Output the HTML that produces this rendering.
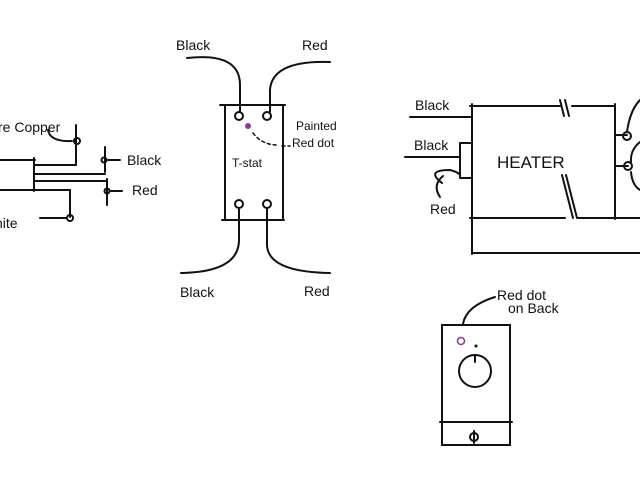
<!DOCTYPE html>
<html><head><style>body{margin:0;background:#fff}svg{display:block}text{font-family:"Liberation Sans",sans-serif;font-size:14px;fill:#111}</style></head>
<body>
<svg width="640" height="480" viewBox="0 0 640 480" xmlns="http://www.w3.org/2000/svg">
<g stroke="#111" stroke-width="2" fill="none" stroke-linecap="round">
<!-- left -->
<path d="M0 160 H35 M34 158 V191 M34 165 H76 M34 174 H105 M34 181 H107 M0 190 H70"/>
<path d="M76 125 V165 M105 147 V172 M107 179 V205 M70 190 V217"/>
<path d="M48 130 Q50 142 72 141"/>
<path d="M108 160 H120 M110 191 H122 M40 218 H66"/>
<circle cx="77" cy="141" r="3"/><circle cx="104" cy="160" r="2.5"/><circle cx="107" cy="191" r="2.5"/><circle cx="70" cy="218" r="3"/>
<!-- tstat -->
<rect x="225" y="105" width="58" height="115"/>
<path d="M220 105 H285 M222 220 H284"/>
<circle cx="239" cy="116" r="4"/><circle cx="267" cy="116" r="4"/><circle cx="239" cy="204" r="4"/><circle cx="267" cy="204" r="4"/>
<path d="M187 58 Q240 52 240 85 V112 M330 62 Q272 60 270 90 V112"/>
<path d="M181 273 Q239 272 239 240 V208 M267 208 V245 Q268 272 330 273"/>
<path d="M253 133 Q262 145 278 145 M282 146 H290" stroke-dasharray="3 3" stroke-width="1.5"/>
<!-- heater -->
<path d="M472 104 V254 M470 106 H560 M572 106 H615 M560 100 L564 116 M565 100 L569 116"/>
<path d="M615 104 V219 M470 218 H565 M578 218 H640 M562 175 L573 218 M566 175 L577 218"/>
<path d="M472 253 H640 M410 117 H472 M405 157 H460 M460 143 V178 M460 143 H472 M460 178 H472"/>
<path d="M442 183 Q425 170 450 170 Q458 172 460 175 M443 176 Q432 185 440 197"/>
<path d="M615 135 H627 M615 166 H628 M627 132 Q630 110 640 100 M631 162 Q630 150 640 142 M631 172 Q632 185 640 190"/>
<circle cx="627" cy="136" r="4"/><circle cx="628" cy="166" r="4"/>
<!-- plate -->
<rect x="442" y="325" width="68" height="120"/>
<path d="M440 422 H512"/>
<circle cx="475" cy="371" r="16"/>
<path d="M475 355 V362"/>
<circle cx="474" cy="437" r="4"/><path d="M474 431 V443"/>
<path d="M463 324 Q466 306 495 297"/>
</g>
<circle cx="248" cy="126" r="3" fill="#8a3d8f"/>
<circle cx="461" cy="341" r="3.5" fill="none" stroke="#8a3d8f" stroke-width="1.5"/>
<circle cx="476" cy="346" r="1.5" fill="#111"/>
<text x="-2" y="132">re Copper</text>
<text x="127" y="165">Black</text>
<text x="132" y="195">Red</text>
<text x="-5" y="228">hite</text>
<text x="176" y="50">Black</text>
<text x="302" y="50">Red</text>
<text x="180" y="297">Black</text>
<text x="304" y="296">Red</text>
<text x="296" y="130" style="font-size:12px">Painted</text>
<text x="292" y="147" style="font-size:12px">Red dot</text>
<text x="232" y="167" style="font-size:12px">T-stat</text>
<text x="415" y="110">Black</text>
<text x="414" y="150">Black</text>
<text x="430" y="214">Red</text>
<text x="497" y="168" style="font-size:17px">HEATER</text>
<text x="497" y="300">Red dot</text>
<text x="508" y="313">on Back</text>
</svg>
</body></html>
